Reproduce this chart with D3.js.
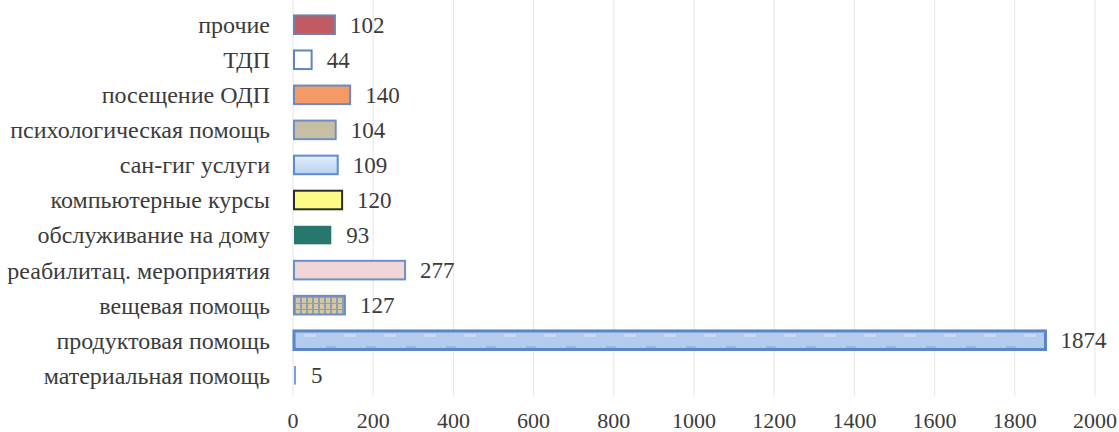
<!DOCTYPE html>
<html>
<head>
<meta charset="utf-8">
<script src="https://cdn.jsdelivr.net/npm/d3@7"></script>
</head>
<body style="margin:0">
<div id="chart"></div>
<script>
// categories, top to bottom as in the picture
const categories = [
    'прочие', 'ТДП', 'посещение ОДП', 'психологическая помощь', 'сан-гиг услуги',
    'компьютерные курсы', 'обслуживание на дому', 'реабилитац. мероприятия',
    'вещевая помощь', 'продуктовая помощь', 'материальная помощь'
];
const values = [102, 44, 140, 104, 109, 120, 93, 277, 127, 1874, 5];
const xTicks = [0, 200, 400, 600, 800, 1000, 1200, 1400, 1600, 1800, 2000];

// per-bar look (fill, outline)
const fills = ['#c25a62', '#ffffff', '#f39a66', '#c8bea6', 'url(#gradSan)', '#fdfa86',
    '#26786c', '#f1d5d8', 'url(#patCloth)', 'url(#patFood)', '#7fa0d0'];
const strokes = ['#6d82ad', '#5b86c2', '#6b89bd', '#6f8fc2', '#5c8ccc', '#2d2d2d',
    'none', '#6a90cc', '#6c8dc4', '#5b86c6', 'none'];

const FONT = '"Times New Roman", Tinos, "Liberation Serif", serif';

const W = 1119, H = 432;
const svg = d3.select('#chart').append('svg')
    .attr('width', W)
    .attr('height', H)
    .style('font-family', FONT);

// defs: gradient / textures
const defs = svg.append('defs');
const grad = defs.append('linearGradient')
    .attr('id', 'gradSan').attr('x1', 0).attr('y1', 0).attr('x2', 0).attr('y2', 1);
grad.append('stop').attr('offset', '0%').attr('stop-color', '#e6effb');
grad.append('stop').attr('offset', '100%').attr('stop-color', '#b7cfee');

const cloth = defs.append('pattern')
    .attr('id', 'patCloth').attr('patternUnits', 'userSpaceOnUse')
    .attr('width', 6).attr('height', 6);
cloth.append('rect').attr('width', 6).attr('height', 6).attr('fill', '#d8c79c');
cloth.append('rect').attr('width', 2).attr('height', 6).attr('fill', '#8aa0b8');
cloth.append('rect').attr('y', 3).attr('width', 6).attr('height', 1).attr('fill', '#b39a68');

const food = defs.append('pattern')
    .attr('id', 'patFood').attr('patternUnits', 'userSpaceOnUse')
    .attr('width', 40).attr('height', 18);
food.append('rect').attr('width', 40).attr('height', 18).attr('fill', '#b3cbec');
food.append('rect').attr('x', 6).attr('y', 4).attr('width', 10).attr('height', 3).attr('fill', '#9bb8e2');
food.append('rect').attr('x', 24).attr('y', 10).attr('width', 12).attr('height', 3).attr('fill', '#c9dbf3');

// scales
const x = d3.scaleLinear()
    .domain([0, 2000])
    .range([293, 1095]);

const y = d3.scaleBand()
    .domain(categories)
    .range([7, 393])
    .paddingInner(0.47)
    .paddingOuter(0.24);

// gridlines
svg.append('g')
    .selectAll('line')
    .data(xTicks)
    .enter()
    .append('line')
    .attr('x1', d => x(d))
    .attr('x2', d => x(d))
    .attr('y1', 0)
    .attr('y2', 396)
    .attr('stroke', '#e6e6e6')
    .attr('stroke-width', 1);

// x tick labels, placed by the scale
svg.append('g')
    .selectAll('text')
    .data(xTicks)
    .enter()
    .append('text')
    .attr('x', d => x(d))
    .attr('y', 420)
    .attr('dy', '0.35em')
    .attr('text-anchor', 'middle')
    .attr('fill', '#3b3b3b')
    .style('font-family', FONT)
    .style('font-size', '22px')
    .text(d3.format('d'));

// category labels
svg.append('g')
    .selectAll('text')
    .data(categories)
    .enter()
    .append('text')
    .attr('x', 270)
    .attr('y', d => y(d) + y.bandwidth() / 2)
    .attr('dy', '0.35em')
    .attr('text-anchor', 'end')
    .attr('fill', '#3b3b3b')
    .style('font-family', FONT)
    .style('font-size', '24px')
    .text(d => d);

// bars
const rows = categories.map((c, i) => ({ cat: c, value: values[i], i: i }));

svg.append('g')
    .selectAll('rect')
    .data(rows)
    .enter()
    .append('rect')
    .attr('x', x(0) + 1)
    .attr('y', d => y(d.cat))
    .attr('width', d => Math.max(2, x(d.value) - x(0)))
    .attr('height', y.bandwidth())
    .attr('fill', d => fills[d.i])
    .attr('stroke', d => strokes[d.i])
    .attr('stroke-width', d => d.cat === 'продуктовая помощь' ? 3 : 2);

// value labels
svg.append('g')
    .selectAll('text')
    .data(rows)
    .enter()
    .append('text')
    .attr('x', d => x(d.value) + 16)
    .attr('y', d => y(d.cat) + y.bandwidth() / 2)
    .attr('dy', '0.35em')
    .attr('fill', '#3b3b3b')
    .style('font-family', FONT)
    .style('font-size', '23px')
    .text(d => d.value);
</script>
</body>
</html>
